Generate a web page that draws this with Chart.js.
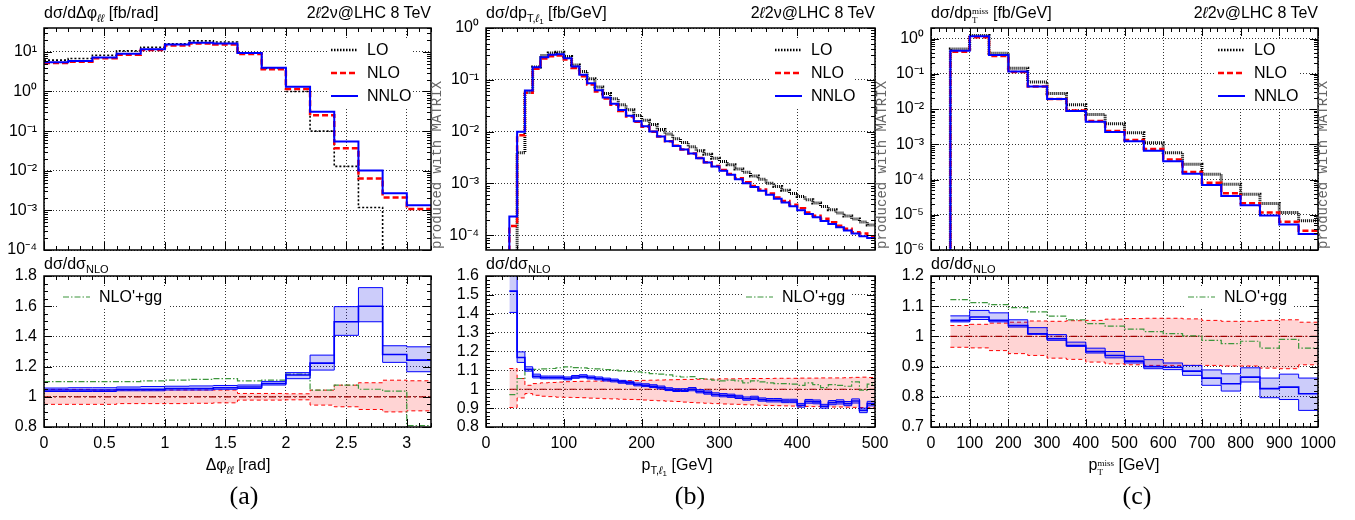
<!DOCTYPE html>
<html lang="en">
<head>
<meta charset="UTF-8">
<title>2l2v @ LHC 8 TeV</title>
<script src="https://cdn.jsdelivr.net/npm/chart.js"></script>
<style>
  body { margin: 0; background: #fff; }
  #page { position: relative; width: 1355px; height: 520px; overflow: hidden;
          font-family: 'Liberation Sans', Arial, sans-serif; color: #000; }
  canvas { position: absolute; }
  .t { position: absolute; white-space: nowrap; font-size: 16px; line-height: 16px; }
  .lo { font-size: 11px; position: relative; top: 4px; }
  .lo2 { font-size: 8px; position: relative; top: 2px; }
  .stk { display: inline-block; font-size: 9px; line-height: 9px; vertical-align: -5px;
         font-family: 'Liberation Serif', serif; text-align: left; }
  .stk span { display: block; }
  .c { transform: translateX(-50%); }
  .lab { font-family: 'Liberation Serif', serif; font-size: 26px; line-height: 26px; }
  .mx { position: absolute; font-family: 'Liberation Mono', 'DejaVu Sans Mono', monospace; font-size: 14px;
        line-height: 14px; color: #666; transform: rotate(-90deg); transform-origin: 0 0; white-space: nowrap; }
</style>
</head>
<body>
<div id="page">
  <canvas id="upA" width="445" height="262" style="left:0px;top:0px"></canvas>
  <canvas id="loA" width="445" height="258" style="left:0px;top:262px"></canvas>
  <canvas id="upB" width="445" height="262" style="left:440px;top:0px"></canvas>
  <canvas id="loB" width="460" height="258" style="left:440px;top:262px"></canvas>
  <canvas id="upC" width="470" height="262" style="left:885px;top:0px"></canvas>
  <canvas id="loC" width="470" height="258" style="left:885px;top:262px"></canvas>

  <div class="t" style="left:44px;top:5px">dσ/dΔφ<span class="lo"><i>ℓℓ</i></span> [fb/rad]</div>
  <div class="t" style="right:924px;top:5px">2<i>ℓ</i>2ν@LHC 8 TeV</div>
  <div class="t" style="left:486px;top:5px">dσ/dp<span class="lo">T,<i>ℓ</i><span class="lo2">1</span></span> [fb/GeV]</div>
  <div class="t" style="right:480px;top:5px">2<i>ℓ</i>2ν@LHC 8 TeV</div>
  <div class="t" style="left:931px;top:5px">dσ/dp<span class="stk"><span>miss</span><span>T</span></span> [fb/GeV]</div>
  <div class="t" style="right:37px;top:5px">2<i>ℓ</i>2ν@LHC 8 TeV</div>

  <div class="t" style="left:44px;top:256px">dσ/dσ<span class="lo">NLO</span></div>
  <div class="t" style="left:486px;top:256px">dσ/dσ<span class="lo">NLO</span></div>
  <div class="t" style="left:931px;top:256px">dσ/dσ<span class="lo">NLO</span></div>

  <div class="t c" style="left:238px;top:457px">Δφ<span class="lo"><i>ℓℓ</i></span> [rad]</div>
  <div class="t c" style="left:677px;top:457px">p<span class="lo">T,<i>ℓ</i><span class="lo2">1</span></span> [GeV]</div>
  <div class="t c" style="left:1124px;top:457px">p<span class="stk"><span>miss</span><span>T</span></span> [GeV]</div>

  <div class="t c lab" style="left:244px;top:483px">(a)</div>
  <div class="t c lab" style="left:690px;top:483px">(b)</div>
  <div class="t c lab" style="left:1137px;top:483px">(c)</div>

  <div class="mx" style="left:430px;top:249px">produced with MATRIX</div>
  <div class="mx" style="left:875px;top:249px">produced with MATRIX</div>
  <div class="mx" style="left:1316px;top:249px">produced with MATRIX</div>
</div>

<script>
// ---------- (a) delta phi_ll ----------
const edgesA = [0, 0.2, 0.4, 0.6, 0.8, 1.0, 1.2, 1.4, 1.6, 1.8, 2.0, 2.2, 2.4, 2.6, 2.8, 3.0, 3.2];
const loA   = [6.2, 6.8, 8.2, 10.6, 13.1, 15.9, 18.9, 17.8, 9.4, 3.8, 1.0, 0.1, 0.0129, 0.00118, 1e-6, 1e-6];
const nloA  = [5.26, 5.65, 6.89, 8.48, 11.1, 14.5, 16.2, 15.3, 8.83, 3.65, 1.15, 0.253, 0.0367, 0.0064, 0.0021, 0.00109];
const nnloA = [5.5, 5.9, 7.2, 8.9, 11.7, 15.3, 17.1, 16.2, 9.4, 3.97, 1.32, 0.31, 0.055, 0.0102, 0.0027, 0.00135];
const rNnloA   = [1.045, 1.045, 1.045, 1.05, 1.05, 1.055, 1.055, 1.06, 1.065, 1.088, 1.144, 1.223, 1.497, 1.6, 1.28, 1.243];
const rNnloLoA = [1.035, 1.035, 1.035, 1.04, 1.04, 1.045, 1.045, 1.05, 1.055, 1.078, 1.12, 1.177, 1.407, 1.497, 1.228, 1.166];
const rNnloHiA = [1.058, 1.06, 1.06, 1.065, 1.068, 1.07, 1.072, 1.075, 1.078, 1.102, 1.16, 1.276, 1.597, 1.723, 1.338, 1.331];
const rNloLoA  = [0.95, 0.95, 0.95, 0.955, 0.955, 0.955, 0.957, 0.96, 0.978, 0.978, 0.98, 0.945, 0.934, 0.916, 0.9, 0.907];
const rNloHiA  = [1.049, 1.049, 1.045, 1.045, 1.045, 1.045, 1.045, 1.045, 1.022, 1.022, 1.02, 1.044, 1.077, 1.093, 1.11, 1.106];
const rGgA     = [1.1, 1.1, 1.1, 1.1, 1.105, 1.11, 1.115, 1.12, 1.105, 1.11, 1.15, 1.044, 1.077, 1.05, 1.037, 0.81];
const xTicksA = [0, 0.5, 1, 1.5, 2, 2.5, 3];
const xLabelsA = ['0', '0.5', '1', '1.5', '2', '2.5', '3'];
const yTicksA = [1e-4, 1e-3, 1e-2, 1e-1, 1, 10];
const yLabelsA = ['10⁻⁴', '10⁻³', '10⁻²', '10⁻¹', '10⁰', '10¹'];
const rTicksA = [0.8, 1, 1.2, 1.4, 1.6, 1.8];
const rLabelsA = ['0.8', '1', '1.2', '1.4', '1.6', '1.8'];

// ---------- (b) pT of leading lepton ----------
const edgesB = [30, 40, 50, 60, 70, 80, 90, 100, 110, 120, 130, 140, 150, 160, 170, 180, 190, 200, 210, 220, 230, 240,
  250, 260, 270, 280, 290, 300, 310, 320, 330, 340, 350, 360, 370, 380, 390, 400, 410, 420, 430, 440, 450, 460, 470, 480, 490, 500];
const loB = [1e-6, 3.9e-3, 0.057, 0.177, 0.294, 0.331, 0.34, 0.281, 0.194, 0.145, 0.105, 0.073, 0.0546, 0.0431, 0.033, 0.0265,
  0.0206, 0.0166, 0.0137, 0.011, 0.009, 0.0073, 0.0062, 0.0051, 0.0043, 0.00366, 0.00307, 0.00265, 0.00229, 0.00191, 0.00165,
  0.0014, 0.00121, 0.00101, 0.00087, 0.00074, 0.00064, 0.00056, 0.000485, 0.000419, 0.00036, 0.000312, 0.000269, 0.000235,
  0.000206, 0.00018, 0.000158];
const nloB = [1.51e-4, 8.48e-3, 0.0561, 0.164, 0.257, 0.285, 0.294, 0.247, 0.169, 0.117, 0.081, 0.0596, 0.0435, 0.0331, 0.0251,
  0.0196, 0.0155, 0.0124, 0.00994, 0.00803, 0.0065, 0.00533, 0.00452, 0.0038, 0.0031, 0.00258, 0.00218, 0.00181, 0.00152,
  0.00126, 0.00106, 0.00089, 0.000762, 0.000642, 0.000538, 0.000459, 0.000387, 0.000331, 0.000275, 0.000238, 0.000208,
  0.000179, 0.000153, 0.000133, 0.000115, 0.000108, 0.0000963];
const nnloB = [2.3e-4, 9.9e-3, 0.062, 0.175, 0.273, 0.303, 0.312, 0.261, 0.18, 0.125, 0.086, 0.063, 0.0457, 0.0346, 0.0261,
  0.0203, 0.0159, 0.0127, 0.0101, 0.0081, 0.0065, 0.0053, 0.0045, 0.0038, 0.00307, 0.00253, 0.00212, 0.00175, 0.00147,
  0.00121, 0.00101, 0.00085, 0.00072, 0.000605, 0.000507, 0.000431, 0.000363, 0.000303, 0.000257, 0.000222, 0.000189,
  0.000166, 0.000143, 0.000123, 0.000108, 0.000096, 0.000089];
const rNnloB = [1.52, 1.168, 1.106, 1.069, 1.062, 1.062, 1.062, 1.057, 1.065, 1.069, 1.062, 1.057, 1.051, 1.046, 1.039, 1.034,
  1.025, 1.021, 1.016, 1.009, 1.0, 0.995, 0.995, 1.0, 0.989, 0.982, 0.972, 0.968, 0.965, 0.959, 0.95, 0.954, 0.945, 0.942,
  0.942, 0.938, 0.938, 0.915, 0.936, 0.933, 0.91, 0.929, 0.933, 0.924, 0.938, 0.888, 0.924];
const rNnloLoB = [1.407, 1.142, 1.096, 1.06, 1.055, 1.055, 1.055, 1.05, 1.058, 1.061, 1.055, 1.05, 1.044, 1.039, 1.032, 1.027,
  1.018, 1.014, 1.009, 1.002, 0.993, 0.988, 0.988, 0.992, 0.981, 0.974, 0.964, 0.96, 0.957, 0.951, 0.942, 0.946, 0.937, 0.933,
  0.933, 0.929, 0.929, 0.905, 0.926, 0.923, 0.9, 0.918, 0.922, 0.913, 0.927, 0.876, 0.912];
const rNnloHiB = [1.63, 1.198, 1.119, 1.08, 1.07, 1.07, 1.07, 1.065, 1.073, 1.077, 1.07, 1.065, 1.059, 1.054, 1.047, 1.042,
  1.033, 1.029, 1.024, 1.017, 1.008, 1.003, 1.003, 1.009, 0.998, 0.991, 0.981, 0.977, 0.974, 0.968, 0.959, 0.963, 0.954, 0.951,
  0.951, 0.947, 0.947, 0.925, 0.946, 0.943, 0.92, 0.94, 0.944, 0.935, 0.949, 0.9, 0.936];
const rNloLoB = [0.903, 0.954, 0.977, 0.968, 0.963, 0.961, 0.958, 0.957, 0.956, 0.955, 0.953, 0.952, 0.95, 0.949, 0.947, 0.946,
  0.945, 0.943, 0.941, 0.939, 0.937, 0.935, 0.932, 0.93, 0.928, 0.926, 0.924, 0.922, 0.921, 0.92, 0.918, 0.917, 0.915, 0.914,
  0.913, 0.912, 0.911, 0.91, 0.909, 0.908, 0.907, 0.906, 0.906, 0.905, 0.904, 0.903, 0.902];
const rNloHiB = [1.11, 1.057, 1.021, 1.03, 1.034, 1.036, 1.038, 1.04, 1.041, 1.042, 1.043, 1.043, 1.044, 1.045, 1.045, 1.046,
  1.046, 1.047, 1.048, 1.049, 1.05, 1.051, 1.052, 1.052, 1.053, 1.054, 1.054, 1.055, 1.055, 1.056, 1.056, 1.057, 1.057, 1.057,
  1.058, 1.058, 1.058, 1.059, 1.059, 1.059, 1.06, 1.06, 1.06, 1.061, 1.063, 1.064, 1.062];
const rGgB = [0.972, 1.057, 1.1, 1.105, 1.108, 1.11, 1.114, 1.119, 1.115, 1.113, 1.11, 1.108, 1.104, 1.101, 1.097, 1.094, 1.092,
  1.088, 1.083, 1.08, 1.076, 1.069, 1.065, 1.067, 1.057, 1.053, 1.048, 1.044, 1.048, 1.044, 1.034, 1.044, 1.039, 1.034, 1.03,
  1.03, 1.027, 1.021, 1.034, 1.025, 1.009, 1.025, 1.021, 1.016, 1.039, 0.995, 1.027];
const xTicksB = [0, 100, 200, 300, 400, 500];
const xLabelsB = ['0', '100', '200', '300', '400', '500'];
const yTicksB = [1e-4, 1e-3, 1e-2, 1e-1, 1];
const yLabelsB = ['10⁻⁴', '10⁻³', '10⁻²', '10⁻¹', '10⁰'];
const rTicksB = [0.8, 0.9, 1, 1.1, 1.2, 1.3, 1.4, 1.5, 1.6];
const rLabelsB = ['0.8', '0.9', '1', '1.1', '1.2', '1.3', '1.4', '1.5', '1.6'];

// ---------- (c) missing pT ----------
const edgesC = [50, 100, 150, 200, 250, 300, 350, 400, 450, 500, 550, 600, 650, 700, 750, 800, 850, 900, 950, 1000];
const loC = [0.51, 1.22, 0.385, 0.145, 0.059, 0.0277, 0.0133, 7.07e-3, 3.85e-3, 2.14e-3, 1.11e-3, 5.8e-4, 2.72e-4, 1.42e-4,
  7.4e-5, 3.85e-5, 2.1e-5, 1.16e-5, 6.8e-6];
const nloC = [0.427, 1.09, 0.323, 0.112, 0.0436, 0.01935, 9.07e-3, 4.61e-3, 2.4e-3, 1.33e-3, 7.33e-4, 3.71e-4, 1.64e-4, 8.12e-5,
  4.07e-5, 2.14e-5, 1.16e-5, 6.37e-6, 3.51e-6];
const nnloC = [0.45, 1.16, 0.34, 0.116, 0.044, 0.0192, 8.8e-3, 4.38e-3, 2.25e-3, 1.22e-3, 6.6e-4, 3.33e-4, 1.45e-4, 7.0e-5,
  3.43e-5, 1.85e-5, 9.6e-6, 5.3e-6, 2.84e-6];
const rNnloC   = [1.053, 1.064, 1.053, 1.036, 1.009, 0.992, 0.97, 0.95, 0.937, 0.918, 0.9, 0.898, 0.885, 0.862, 0.843, 0.865, 0.827, 0.832, 0.81];
const rNnloLoC = [1.048, 1.056, 1.048, 1.031, 1.007, 0.987, 0.967, 0.945, 0.929, 0.912, 0.893, 0.89, 0.871, 0.838, 0.819, 0.849, 0.797, 0.791, 0.755];
const rNnloHiC = [1.068, 1.086, 1.078, 1.055, 1.029, 1.006, 0.981, 0.961, 0.95, 0.934, 0.923, 0.912, 0.904, 0.889, 0.876, 0.896, 0.862, 0.875, 0.862];
const rNloLoC  = [0.964, 0.962, 0.953, 0.943, 0.937, 0.928, 0.924, 0.915, 0.909, 0.906, 0.904, 0.904, 0.904, 0.904, 0.902, 0.902, 0.895, 0.893, 0.906];
const rNloHiC  = [1.036, 1.04, 1.044, 1.047, 1.051, 1.05, 1.052, 1.053, 1.057, 1.059, 1.06, 1.06, 1.058, 1.053, 1.05, 1.05, 1.053, 1.055, 1.047];
const rGgC     = [1.122, 1.112, 1.105, 1.095, 1.081, 1.067, 1.055, 1.042, 1.034, 1.024, 1.016, 1.009, 1.002, 0.987, 0.976, 0.984, 0.961, 0.99, 0.961];
const xTicksC = [0, 100, 200, 300, 400, 500, 600, 700, 800, 900, 1000];
const xLabelsC = ['0', '100', '200', '300', '400', '500', '600', '700', '800', '900', '1000'];
const yTicksC = [1e-6, 1e-5, 1e-4, 1e-3, 1e-2, 1e-1, 1];
const yLabelsC = ['10⁻⁶', '10⁻⁵', '10⁻⁴', '10⁻³', '10⁻²', '10⁻¹', '10⁰'];
const rTicksC = [0.7, 0.8, 0.9, 1, 1.1, 1.2];
const rLabelsC = ['0.7', '0.8', '0.9', '1', '1.1', '1.2'];

// ---------- styling ----------
const FLOOR = 1e-9;   // below every log axis: lets a histogram rise from the bottom
const tickFont = { family: "'Liberation Sans', Arial, sans-serif", size: 16 };
const gridColor = 'rgba(0,0,0,0.8)';
const BLUE = '#0000ff', RED = '#ff0000', GREEN = '#3c963c';

// histogram as stepped points: one point per left edge plus the closing right edge
function hist(edges, vals, floor) {
  const pts = vals.map((v, i) => ({ x: edges[i], y: v }));
  pts.push({ x: edges[edges.length - 1], y: vals[vals.length - 1] });
  if (floor) pts.unshift({ x: edges[0], y: floor });
  return pts;
}

// frame with inward major/minor tick marks on all four sides
const framePlugin = {
  id: 'frame',
  afterDatasetsDraw(chart, args, o) {
    const ctx = chart.ctx, a = chart.chartArea;
    const xs = chart.scales.x, ys = chart.scales.y;
    ctx.save();
    ctx.strokeStyle = '#000';
    ctx.lineWidth = 1;
    ctx.beginPath();
    const xMaj = xs.ticks.map(t => t.value);
    const nx = Math.round((xs.max - xs.min) / o.xMinor);
    for (let k = 0; k <= nx; k++) {
      const v = xs.min + k * o.xMinor;
      const len = xMaj.some(m => Math.abs(m - v) < o.xMinor / 10) ? 8 : 4;
      const px = Math.round(xs.getPixelForValue(v)) + 0.5;
      ctx.moveTo(px, a.bottom); ctx.lineTo(px, a.bottom - len);
      ctx.moveTo(px, a.top); ctx.lineTo(px, a.top + len);
    }
    const yMarks = [];
    if (o.yLog) {
      const e0 = Math.floor(Math.log10(ys.min)), e1 = Math.ceil(Math.log10(ys.max));
      for (let e = e0; e <= e1; e++) {
        for (let m = 1; m <= 9; m++) {
          const v = m * Math.pow(10, e);
          if (v >= ys.min * 0.999 && v <= ys.max) yMarks.push([v, m === 1]);
        }
      }
    } else {
      const yMaj = ys.ticks.map(t => t.value);
      const ny = Math.round((ys.max - ys.min) / o.yMinor);
      for (let k = 0; k <= ny; k++) {
        const v = ys.min + k * o.yMinor;
        yMarks.push([v, yMaj.some(m => Math.abs(m - v) < o.yMinor / 10)]);
      }
    }
    yMarks.forEach(([v, big]) => {
      const len = big ? 8 : 4;
      const py = Math.round(ys.getPixelForValue(v)) + 0.5;
      ctx.moveTo(a.left, py); ctx.lineTo(a.left + len, py);
      ctx.moveTo(a.right, py); ctx.lineTo(a.right - len, py);
    });
    ctx.stroke();
    ctx.lineWidth = 1.5;
    ctx.strokeRect(a.left, a.top, a.right - a.left, a.bottom - a.top);
    ctx.restore();
  }
};

// in-plot key on a white patch
const keyPlugin = {
  id: 'key',
  beforeDatasetsDraw(chart, args, o) {
    const a = chart.chartArea, ctx = chart.ctx;
    const x0 = o.fromRight ? a.right - o.fromRight : a.left + o.fromLeft;
    ctx.save();
    ctx.fillStyle = '#fff';
    ctx.fillRect(x0 - 4, a.top + o.top - 11, o.boxW, o.items.length * 23 - 1);
    ctx.restore();
  },
  afterDatasetsDraw(chart, args, o) {
    const a = chart.chartArea, ctx = chart.ctx;
    const x0 = o.fromRight ? a.right - o.fromRight : a.left + o.fromLeft;
    ctx.save();
    ctx.font = "16px 'Liberation Sans', Arial, sans-serif";
    ctx.textBaseline = 'middle';
    o.items.forEach((it, i) => {
      const y = a.top + o.top + i * 23;
      ctx.strokeStyle = it.color;
      ctx.lineWidth = it.width;
      ctx.setLineDash(it.dash);
      ctx.beginPath(); ctx.moveTo(x0, y); ctx.lineTo(x0 + 27, y); ctx.stroke();
      ctx.setLineDash([]);
      ctx.fillStyle = '#000';
      ctx.fillText(it.text, x0 + 36, y + 1);
    });
    ctx.restore();
  }
};

function xAxis(range, ticks, labels, show, height) {
  return {
    type: 'linear', min: range[0], max: range[1],
    afterBuildTicks: s => { s.ticks = ticks.map(v => ({ value: v })); },
    afterFit: s => { s.height = height; s.paddingLeft = 0; s.paddingRight = 0; },
    ticks: { display: show, autoSkip: false, maxRotation: 0, padding: 7, color: '#000', font: tickFont,
             callback: (v, i) => labels[i] },
    grid: { color: gridColor, lineWidth: 1, drawTicks: false },
    border: { display: false, dash: [1, 2] }
  };
}

function yAxis(type, range, ticks, labels, width) {
  return {
    type, min: range[0], max: range[1],
    afterBuildTicks: s => { s.ticks = ticks.map(v => ({ value: v })); },
    afterFit: s => { s.width = width; s.paddingTop = 0; s.paddingBottom = 0; },
    ticks: { autoSkip: false, padding: 7, color: '#000', font: tickFont, callback: (v, i) => labels[i] },
    grid: { color: gridColor, lineWidth: 1, drawTicks: false },
    border: { display: false, dash: [1, 2] }
  };
}

const line = { stepped: true, pointRadius: 0, fill: false, tension: 0 };

function upperChart(id, p) {
  const loStyle = { borderColor: '#000', borderWidth: p.loWidth, borderDash: p.loDash };
  new Chart(document.getElementById(id), {
    type: 'line',
    data: {
      datasets: [
        { ...line, data: hist(p.edges, p.nnlo, p.floor), borderColor: BLUE, borderWidth: 2 },
        { ...line, data: hist(p.edges, p.nlo, p.floor), borderColor: RED, borderWidth: 2.5, borderDash: [6, 3] },
        { ...line, data: hist(p.edges, p.lo, p.floor), ...loStyle }
      ]
    },
    options: {
      responsive: false, animation: false, events: [],
      layout: { padding: { left: 0, top: 28, right: p.padRight, bottom: 12 } },
      scales: {
        x: xAxis(p.xRange, p.xTicks, p.xLabels, false, 0),
        y: yAxis('logarithmic', p.yRange, p.yTicks, p.yLabels, p.yWidth)
      },
      plugins: {
        legend: { display: false }, tooltip: { enabled: false },
        frame: { xMinor: p.xMinor, yLog: true },
        key: { fromRight: 100, top: 22, boxW: 84, items: [
          { text: 'LO', color: '#000', width: 2.5, dash: [1.5, 1.5] },
          { text: 'NLO', color: RED, width: 2.5, dash: [6, 3] },
          { text: 'NNLO', color: BLUE, width: 2, dash: [] }
        ] }
      }
    },
    plugins: [framePlugin, keyPlugin]
  });
}

function ratioChart(id, p) {
  const e = p.edges;
  new Chart(document.getElementById(id), {
    type: 'line',
    data: {
      datasets: [
        { ...line, data: hist(e, p.nnloHi), borderColor: BLUE, borderWidth: 1, fill: '+1', backgroundColor: 'rgba(0,0,230,0.2)' },
        { ...line, data: hist(e, p.nnloLo), borderColor: BLUE, borderWidth: 1 },
        { ...line, data: hist(e, p.nnlo), borderColor: BLUE, borderWidth: 1.6 },
        { ...line, data: hist(e, p.gg), borderColor: GREEN, borderWidth: 1.2, borderDash: [6, 2, 1.5, 2] },
        { ...line, data: [{ x: e[0], y: 1 }, { x: e[e.length - 1], y: 1 }], borderColor: '#a00000', borderWidth: 1.2, borderDash: [7, 3, 2, 3] },
        { ...line, data: hist(e, p.nloHi), borderColor: RED, borderWidth: 1, borderDash: [4, 3], fill: '+1', backgroundColor: 'rgba(255,0,0,0.17)' },
        { ...line, data: hist(e, p.nloLo), borderColor: RED, borderWidth: 1, borderDash: [4, 3] }
      ]
    },
    options: {
      responsive: false, animation: false, events: [],
      layout: { padding: { left: 0, top: 14, right: p.padRight, bottom: 63 } },
      scales: {
        x: xAxis(p.xRange, p.xTicks, p.xLabels, true, 30),
        y: yAxis('linear', p.yRange, p.yTicks, p.yLabels, p.yWidth)
      },
      plugins: {
        legend: { display: false }, tooltip: { enabled: false },
        frame: { xMinor: p.xMinor, yMinor: p.yMinor, yLog: false },
        key: Object.assign({ top: 21, boxW: 110, items: [
          { text: "NLO'+gg", color: GREEN, width: 1.2, dash: [6, 2, 1.5, 2] }
        ] }, p.keyPos)
      }
    },
    plugins: [framePlugin, keyPlugin]
  });
}

upperChart('upA', { edges: edgesA, lo: loA, nlo: nloA, nnlo: nnloA, floor: null, loWidth: 1.6, loDash: [2, 2],
  xRange: [0, 3.2], xTicks: xTicksA, xLabels: xLabelsA, xMinor: 0.1,
  yRange: [1e-4, 40], yTicks: yTicksA, yLabels: yLabelsA, yWidth: 44, padRight: 14 });
ratioChart('loA', { edges: edgesA, nnlo: rNnloA, nnloLo: rNnloLoA, nnloHi: rNnloHiA, nloLo: rNloLoA, nloHi: rNloHiA, gg: rGgA,
  xRange: [0, 3.2], xTicks: xTicksA, xLabels: xLabelsA, xMinor: 0.1,
  yRange: [0.8, 1.8], yTicks: rTicksA, yLabels: rLabelsA, yMinor: 0.05, yWidth: 44, padRight: 14,
  keyPos: { fromLeft: 19 } });

upperChart('upB', { edges: edgesB, lo: loB, nlo: nloB, nnlo: nnloB, floor: FLOOR, loWidth: 3, loDash: [1, 1],
  xRange: [0, 500], xTicks: xTicksB, xLabels: xLabelsB, xMinor: 20,
  yRange: [5.2e-5, 1], yTicks: yTicksB, yLabels: yLabelsB, yWidth: 46, padRight: 10 });
ratioChart('loB', { edges: edgesB, nnlo: rNnloB, nnloLo: rNnloLoB, nnloHi: rNnloHiB, nloLo: rNloLoB, nloHi: rNloHiB, gg: rGgB,
  xRange: [0, 500], xTicks: xTicksB, xLabels: xLabelsB, xMinor: 20,
  yRange: [0.8, 1.6], yTicks: rTicksB, yLabels: rLabelsB, yMinor: 0.02, yWidth: 46, padRight: 25,
  keyPos: { fromRight: 129 } });

upperChart('upC', { edges: edgesC, lo: loC, nlo: nloC, nnlo: nnloC, floor: FLOOR, loWidth: 3, loDash: [1, 1],
  xRange: [0, 1000], xTicks: xTicksC, xLabels: xLabelsC, xMinor: 20,
  yRange: [1e-6, 2], yTicks: yTicksC, yLabels: yLabelsC, yWidth: 46, padRight: 37 });
ratioChart('loC', { edges: edgesC, nnlo: rNnloC, nnloLo: rNnloLoC, nnloHi: rNnloHiC, nloLo: rNloLoC, nloHi: rNloHiC, gg: rGgC,
  xRange: [0, 1000], xTicks: xTicksC, xLabels: xLabelsC, xMinor: 20,
  yRange: [0.7, 1.2], yTicks: rTicksC, yLabels: rLabelsC, yMinor: 0.02, yWidth: 46, padRight: 37,
  keyPos: { fromRight: 130 } });
</script>
</body>
</html>
